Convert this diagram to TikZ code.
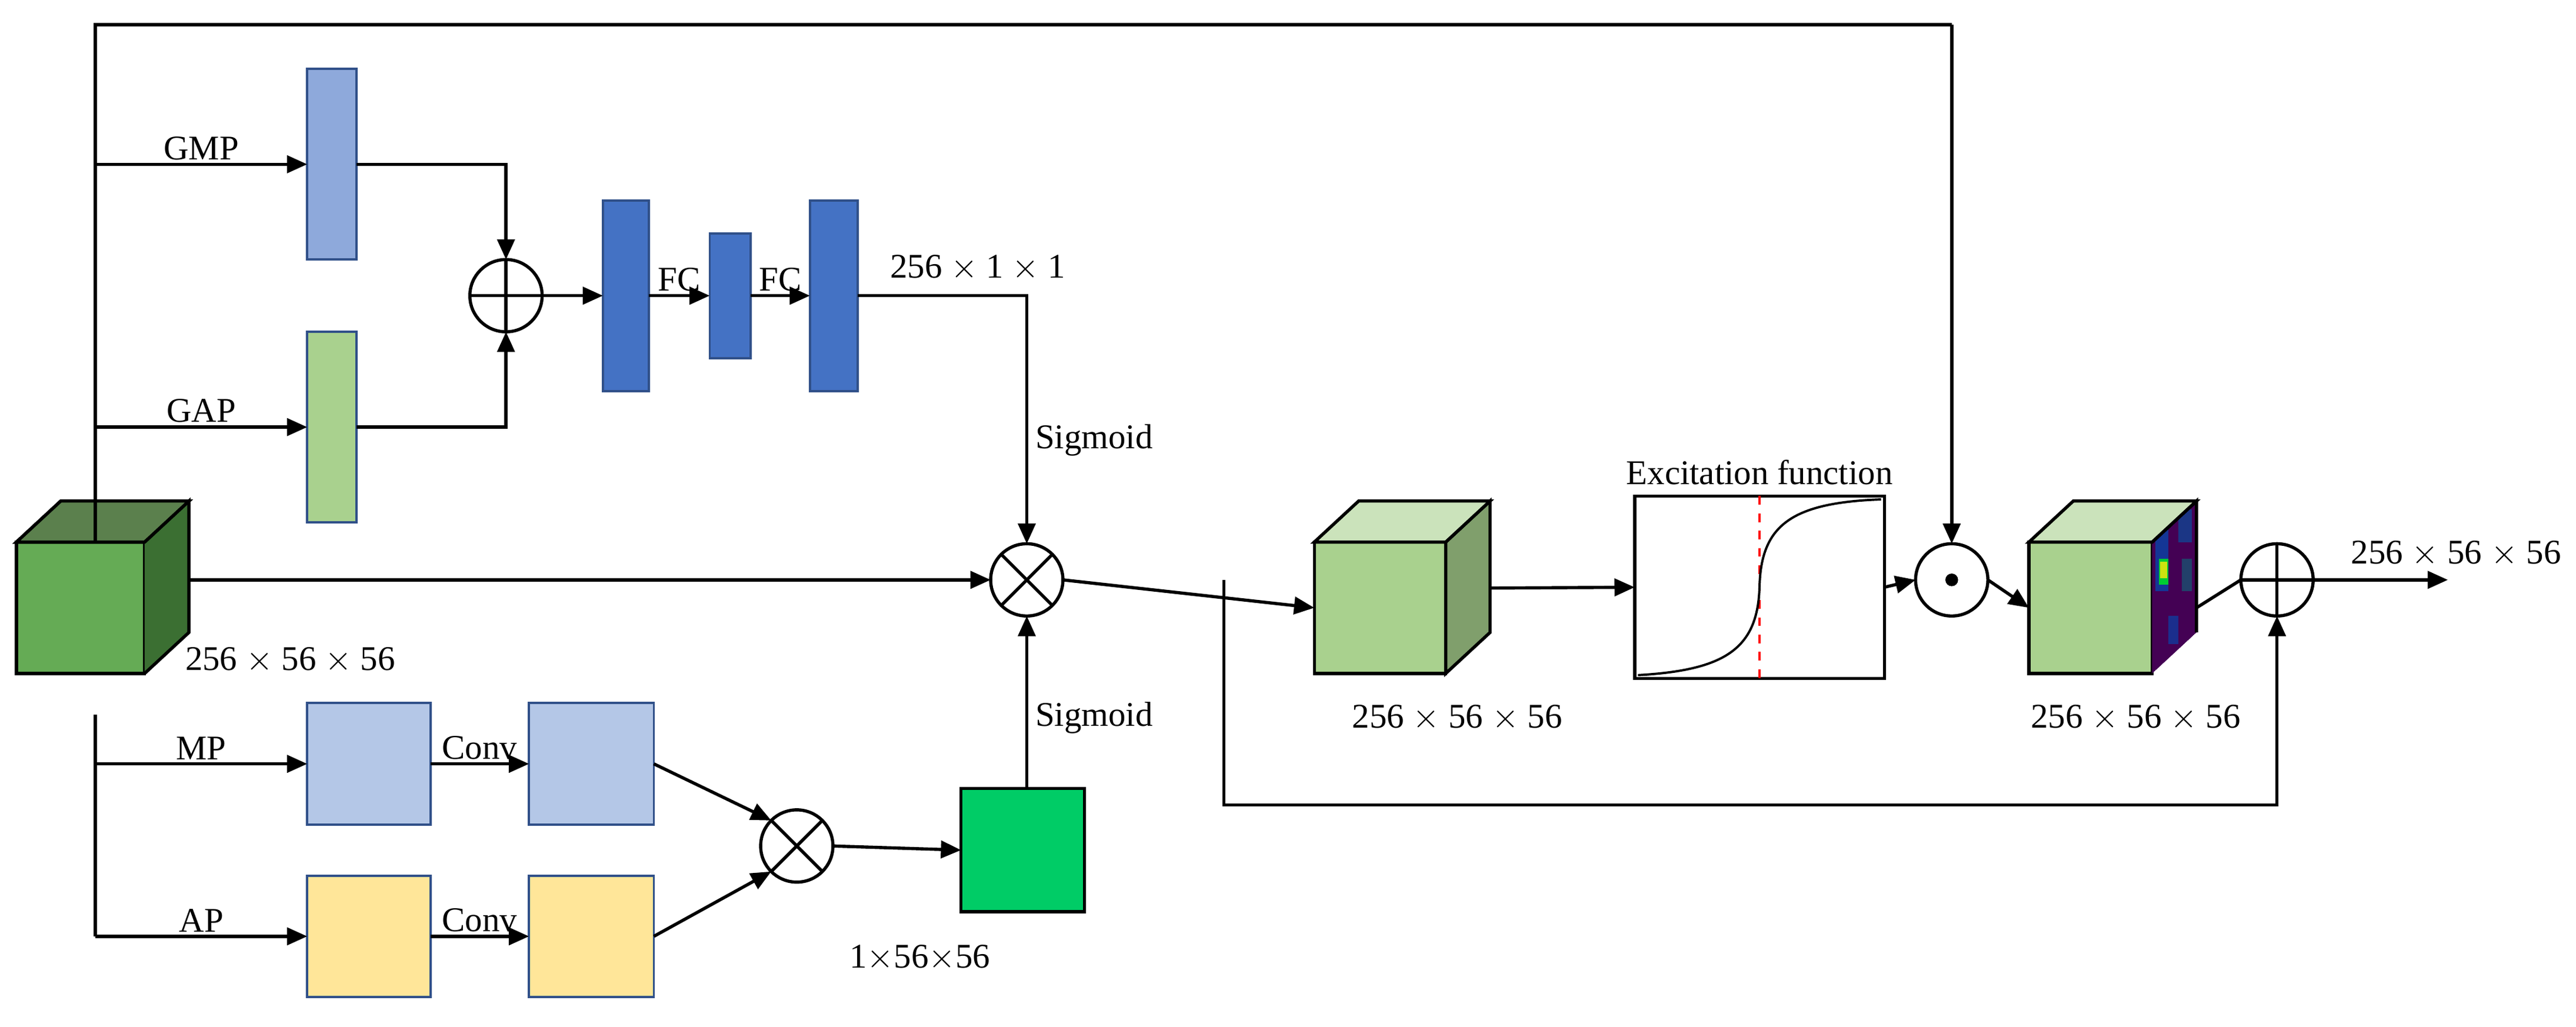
\documentclass[tikz,border=0pt]{standalone}
\usepackage{fontspec}
\setmainfont{Liberation Serif}
\usetikzlibrary{arrows.meta,calc}
\definecolor{gmpc}{HTML}{8EA9DB}
\definecolor{gapc}{HTML}{A9D18E}
\definecolor{fcc}{HTML}{4472C4}
\definecolor{mpc}{HTML}{B4C7E7}
\definecolor{apc}{HTML}{FFE699}
\definecolor{sqc}{HTML}{00CC66}
\definecolor{vir}{HTML}{440154}
\begin{document}
\begin{tikzpicture}[x=0.02cm,y=-0.02cm,line width=1.1pt,
  every node/.style={font=\fontsize{12}{14}\selectfont},
  arr/.style={-{Triangle[length=7pt,width=6pt]}},
  box/.style={draw,inner sep=0,outer sep=0},
  thinbox/.style={draw=fcc!70!black,line width=0.8pt,inner sep=0,outer sep=0},
  op/.style={draw,circle,minimum size=0.88cm,inner sep=0,outer sep=0},
  plus/.style={op,path picture={\draw (path picture bounding box.north)--(path picture bounding box.south) (path picture bounding box.west)--(path picture bounding box.east);}},
  times/.style={op,path picture={\draw ($(path picture bounding box.center)+(-15.5,-15.5)$)--++(31,31) ($(path picture bounding box.center)+(15.5,-15.5)$)--++(-31,31);}},
  lbl/.style={inner sep=1pt}]
\useasboundingbox (0,0) rectangle (1568,625);
% helper for cubes
\newcommand{\mycube}[7]{% name, x1,y1,x2,y2, front, top/right
  \node[box,fill=#6,minimum width={(#4-#2)*0.02cm},minimum height={(#5-#3)*0.02cm},anchor=north west] (#1) at (#2,#3) {};
  \draw[fill=#7!75!white] (#1.north west)--++(27,-25)--($(#1.north east)+(27,-25)$)--(#1.north east)--cycle;
}
% left cube
\mycube{c1}{10}{330}{88}{410}{green!45!black!40!gapc}{gapc}
\fill[fill=gapc!70!green!50!black] (c1.north east)--++(27,-25)--++(0,80)--(c1.south east)--cycle;
\draw (c1.north east)--++(27,-25)--++(0,80)--(c1.south east);
\draw[fill=gapc!90!green!60!black] (c1.north west)--++(27,-25)--($(c1.north east)+(27,-25)$)--(c1.north east)--cycle;
\node[anchor=west] (l1) at (106,402) {256 $\times$ 56 $\times$ 56};

% top path
\coordinate (t0) at (58,15);
\coordinate (t1) at (1188,15);
\node[op] (odot) at (1188,353) {};
\fill (odot.center) circle (2.2pt);
\draw (c1.north west -| t0) -- (t0) -- (t1);
\draw[arr] (t1) -- (odot.north);

% GMP / GAP
\node[thinbox,fill=gmpc,minimum width=0.6cm,minimum height=2.32cm] (gmp) at (202,100) {};
\node[thinbox,fill=gapc,minimum width=0.6cm,minimum height=2.32cm] (gap) at (202,260) {};
\draw[arr] (58,100) -- node[above,lbl] {GMP} (gmp.west);
\draw[arr] (58,260) -- node[above,lbl] {GAP} (gap.west);
\node[plus] (add1) at (308,180) {};
\draw[arr] (gmp.east) -| (add1.north);
\draw[arr] (gap.east) -| (add1.south);
\node[thinbox,fill=fcc,minimum width=0.56cm,minimum height=2.32cm] (fc1) at (381,180) {};
\node[thinbox,fill=fcc,minimum width=0.5cm,minimum height=1.52cm] (fc2) at (444.5,180) {};
\node[thinbox,fill=fcc,minimum width=0.58cm,minimum height=2.32cm] (fc3) at (507.5,180) {};
\draw[arr] (add1.east) -- (fc1.west);
\draw[arr] (fc1.east) -- node[above,lbl] {FC} (fc2.west);
\draw[arr] (fc2.east) -- node[above,lbl] {FC} (fc3.west);
\node[anchor=west] (l2) at (535,163) {256 $\times$ 1 $\times$ 1};
\node[times] (mul1) at (625,353) {};
\draw[arr] (fc3.east) -| (mul1.north);
\node (sig1) at (666,268) {Sigmoid};
\draw[arr] (c1.east |- mul1) ++(27,0) -- (mul1.west);

% MP / AP
\draw (58,435) -- (58,570);
\node[thinbox,fill=mpc,minimum width=1.5cm,minimum height=1.48cm] (mp1) at (224.5,465) {};
\node[thinbox,fill=mpc,minimum width=1.52cm,minimum height=1.48cm] (mp2) at (360,465) {};
\node[thinbox,fill=apc,minimum width=1.5cm,minimum height=1.48cm] (ap1) at (224.5,570) {};
\node[thinbox,fill=apc,minimum width=1.52cm,minimum height=1.48cm] (ap2) at (360,570) {};
\draw[arr] (58,465) -- node[above,lbl] {MP} (mp1.west);
\draw[arr] (58,570) -- node[above,lbl] {AP} (ap1.west);
\draw[arr] (mp1.east) -- node[above,lbl] {Conv} (mp2.west);
\draw[arr] (ap1.east) -- node[above,lbl] {Conv} (ap2.west);
\node[times] (mul2) at (485,515) {};
\draw[arr] (mp2.east) -- (mul2.north west);
\draw[arr] (ap2.east) -- (mul2.south west);
\node[box,fill=sqc,minimum width=1.5cm,minimum height=1.5cm] (sq) at (622.5,517.5) {};
\draw[arr] (mul2.east) -- (sq.west);
\node (l3) at (560,583) {1$\times$56$\times$56};
\draw[arr] (sq.north -| mul1) -- (mul1.south);
\node (sig2) at (666,437) {Sigmoid};

% cube 2
\node[box,fill=gapc,minimum width=1.6cm,minimum height=1.6cm,anchor=north west] (c2) at (800,330) {};
\draw[fill=gapc!60!black!60!gapc] (c2.north east)--++(27,-25)--++(0,80)--(c2.south east)--cycle;
\draw[fill=gapc!60!white] (c2.north west)--++(27,-25)--($(c2.north east)+(27,-25)$)--(c2.north east)--cycle;
\node (l4) at (887,437) {256 $\times$ 56 $\times$ 56};
\coordinate (br) at (745,353);
\draw[arr] (mul1.east) -- (c2.west);

% excitation
\node[box,minimum width=3.04cm,minimum height=2.22cm] (ex) at (1071,357.5) {};
\node[anchor=south] (exl) at (ex.north) {Excitation function};
\draw[red,dashed,line width=0.8pt] (ex.north) -- (ex.south);
\draw[line width=0.8pt] ($(ex.south west)+(2,-2)$) .. controls (1050,408) and (1070,395) .. (1071,357)
  .. controls (1072,320) and (1090,306) .. ($(ex.north east)+(-2,2)$);
\draw[arr] ($(c2.east)+(27,-12)$) -- (ex.west);
\draw[arr] (ex.east) -- (odot.west);

% cube 3 with heatmap side
\node[box,fill=gapc,minimum width=1.5cm,minimum height=1.6cm,anchor=north west] (c3) at (1235,330) {};
\begin{scope}
\clip (c3.north east)--++(27,-25)--++(0,80)--(c3.south east)--cycle;
\fill[vir] (c3.north east)--++(27,-25)--++(0,80)--(c3.south east)--cycle;
\fill[teal!60!blue!70!vir] (1312,318) rectangle (1320,360);
\fill[teal!70!blue!60!vir] (1326,310) rectangle (1334,330);
\fill[teal!60!blue!60!vir] (1320,375) rectangle (1326,392);
\fill[green!60!teal] (1314,340) rectangle (1320,356);
\fill[yellow!80!green] (1315,342) rectangle (1319,352);
\fill[teal!50!vir] (1328,340) rectangle (1334,360);
\end{scope}
\draw (c3.north east)--++(27,-25)--++(0,80);
\draw[fill=gapc!60!white] (c3.north west)--++(27,-25)--($(c3.north east)+(27,-25)$)--(c3.north east)--cycle;
\node (l5) at (1300,437) {256 $\times$ 56 $\times$ 56};
\draw[arr] (odot.east) -- (c3.west);
\node[plus] (add2) at (1386,353) {};
\draw ($(c3.east)+(27,0)$) -- (add2.west);
\coordinate (out) at (1490,353);
\draw[arr] (add2.east) -- (out);
\node (l6) at (1495,337) {256 $\times$ 56 $\times$ 56};
\draw[arr] (br) -- (745,490) -| (add2.south);
\end{tikzpicture}
\end{document}
